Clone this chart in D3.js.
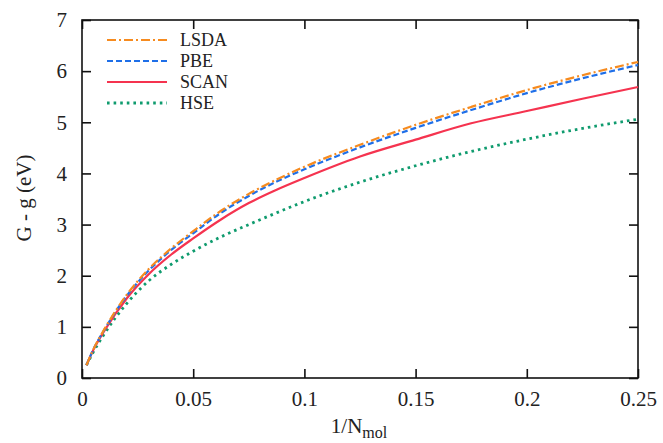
<!DOCTYPE html>
<html>
<head>
<meta charset="utf-8">
<script src="https://cdn.jsdelivr.net/npm/d3@7"></script>
<style>
  body { margin: 0; background: #fff; }
  text { font-family: "Liberation Serif", "DejaVu Serif", serif; fill: #222; }
</style>
</head>
<body>
<svg id="chart" width="663" height="443"></svg>
<script>
// data
const xs = [0.002, 0.005, 0.01, 0.02, 0.03, 0.04, 0.05, 0.0625, 0.075, 0.0875, 0.1, 0.125, 0.15, 0.175, 0.2, 0.225, 0.25];
const lsda = [0.25, 0.55, 0.95, 1.62, 2.13, 2.53, 2.87, 3.27, 3.6, 3.88, 4.13, 4.56, 4.95, 5.3, 5.63, 5.92, 6.18];
const pbe  = [0.25, 0.55, 0.94, 1.6, 2.1, 2.5, 2.83, 3.23, 3.56, 3.84, 4.08, 4.51, 4.89, 5.24, 5.57, 5.86, 6.12];
const scan = [0.25, 0.54, 0.92, 1.55, 2.03, 2.41, 2.73, 3.1, 3.42, 3.68, 3.91, 4.33, 4.66, 4.98, 5.22, 5.46, 5.69];
const hse  = [0.25, 0.5, 0.86, 1.45, 1.9, 2.22, 2.48, 2.76, 3.0, 3.23, 3.45, 3.83, 4.15, 4.43, 4.67, 4.88, 5.06];

const seriesNames = ['LSDA', 'PBE', 'SCAN', 'HSE'];
const xTicks = [0, 0.05, 0.1, 0.15, 0.2, 0.25];
const xTickLabels = ['0', '0.05', '0.1', '0.15', '0.2', '0.25'];
const yTicks = [0, 1, 2, 3, 4, 5, 6, 7];

const styles = {
  LSDA: { color: '#f68b1f', dash: '9,3,2,3' },
  PBE:  { color: '#1f6fe8', dash: '6,3' },
  SCAN: { color: '#f5334f', dash: null },
  HSE:  { color: '#0f9b6e', dash: '2.6,4' }
};

const m = { left: 82, right: 25, top: 20, bottom: 65 };
const W = 663, H = 443;

const svg = d3.select('#chart');
const x = d3.scaleLinear().domain([0, 0.25]).range([m.left, W - m.right]);
const y = d3.scaleLinear().domain([0, 7]).range([H - m.bottom, m.top]);

const tickLen = 9;

// ticks on all sides, pointing inward
svg.append('g')
  .attr('transform', `translate(0,${y(0)})`)
  .call(d3.axisBottom(x).tickValues(xTicks).tickSize(-tickLen).tickPadding(13)
    .tickFormat((d, i) => xTickLabels[i]))
  .call(g => g.select('.domain').remove());

svg.append('g')
  .attr('transform', `translate(0,${y(7)})`)
  .call(d3.axisTop(x).tickValues(xTicks).tickSize(-tickLen).tickFormat(''))
  .call(g => g.select('.domain').remove());

svg.append('g')
  .attr('transform', `translate(${x(0)},0)`)
  .call(d3.axisLeft(y).tickValues(yTicks).tickSize(-tickLen).tickPadding(15)
    .tickFormat(d3.format('d')))
  .call(g => g.select('.domain').remove());

svg.append('g')
  .attr('transform', `translate(${x(0.25)},0)`)
  .call(d3.axisRight(y).tickValues(yTicks).tickSize(-tickLen).tickFormat(''))
  .call(g => g.select('.domain').remove());

svg.selectAll('.tick line').attr('stroke', '#111').attr('stroke-width', 1.6);
svg.selectAll('.tick text').style('font-size', '21px').attr('fill', '#222');

// frame
svg.append('rect')
  .attr('x', x(0)).attr('y', y(7))
  .attr('width', x(0.25) - x(0)).attr('height', y(0) - y(7))
  .attr('fill', 'none').attr('stroke', '#111').attr('stroke-width', 1.6);

// curves
const seriesData = { LSDA: lsda, PBE: pbe, SCAN: scan, HSE: hse };
const line = d3.line().x(d => x(d[0])).y(d => y(d[1])).curve(d3.curveMonotoneX);

// draw HSE first so the others lie on top
['HSE', 'SCAN', 'PBE', 'LSDA'].forEach(name => {
  const pts = xs.map((v, i) => [v, seriesData[name][i]]);
  svg.append('path')
    .datum(pts)
    .attr('d', line)
    .attr('fill', 'none')
    .attr('stroke', styles[name].color)
    .attr('stroke-width', name === 'HSE' ? 2.8 : 2.2)
    .attr('stroke-dasharray', styles[name].dash);
});

// legend
const legend = svg.append('g');
seriesNames.forEach((name, i) => {
  const ly = 40 + i * 21;
  legend.append('line')
    .attr('x1', 107).attr('x2', 167).attr('y1', ly).attr('y2', ly)
    .attr('stroke', styles[name].color)
    .attr('stroke-width', name === 'HSE' ? 2.8 : 2.2)
    .attr('stroke-dasharray', styles[name].dash);
  legend.append('text')
    .attr('x', 180).attr('y', ly + 6)
    .style('font-size', '18px')
    .text(name);
});

// axis labels
const xl = svg.append('text')
  .attr('x', 359).attr('y', 433)
  .attr('text-anchor', 'middle')
  .style('font-size', '21px');
xl.append('tspan').text('1/N');
xl.append('tspan').attr('dy', 5).style('font-size', '16px').text('mol');

svg.append('text')
  .attr('transform', 'translate(31,198) rotate(-90)')
  .attr('text-anchor', 'middle')
  .style('font-size', '21px')
  .text('G - g (eV)');
</script>
</body>
</html>
